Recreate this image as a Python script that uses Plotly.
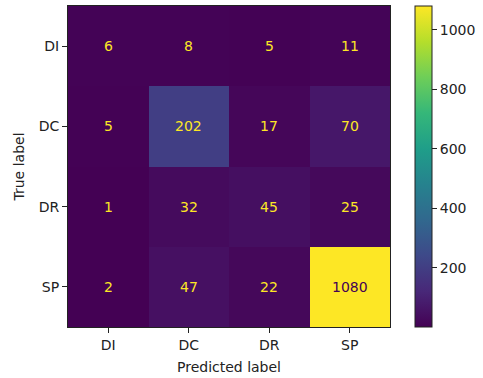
import plotly.graph_objects as go

labels = ["DI", "DC", "DR", "SP"]
matrix = [
    [6, 8, 5, 11],
    [5, 202, 17, 70],
    [1, 32, 45, 25],
    [2, 47, 22, 1080],
]
cbar_ticks = [200, 400, 600, 800, 1000]

zmin = min(min(r) for r in matrix)
zmax = max(max(r) for r in matrix)
thresh = (zmin + zmax) / 2
FONT = "DejaVu Sans"
FS = 14

fig = go.Figure(go.Heatmap(
    z=matrix, x=labels, y=labels,
    colorscale="Viridis", zmin=zmin, zmax=zmax,
    xgap=0, ygap=0, hoverinfo="skip",
    colorbar=dict(
        x=1.078, xanchor="left", y=0.5, yanchor="middle",
        len=1.0, lenmode="fraction", thickness=17, xpad=0, ypad=0,
        outlinewidth=1, outlinecolor="#222",
        tickvals=cbar_ticks, ticks="outside", ticklen=5, tickcolor="#222",
        tickfont=dict(family=FONT, size=FS, color="#222"),
    ),
))

ann = []
for i, row in enumerate(matrix):
    for j, v in enumerate(row):
        ann.append(dict(
            x=labels[j], y=labels[i], text=str(v), showarrow=False,
            font=dict(family=FONT, size=FS,
                      color="#440154" if v >= thresh else "#fde725"),
        ))

axis_common = dict(
    showline=True, linecolor="#222", linewidth=1, mirror=True,
    ticks="outside", ticklen=5, tickcolor="#222", showgrid=False, zeroline=False,
    tickfont=dict(family=FONT, size=FS, color="#222"),
)
fig.update_layout(
    width=483, height=378,
    margin=dict(l=68, r=93, t=5, b=50),
    paper_bgcolor="white", plot_bgcolor="white",
    annotations=ann,
    xaxis=dict(title=dict(text="Predicted label", standoff=10,
                          font=dict(family=FONT, size=FS, color="#222")),
               **axis_common),
    yaxis=dict(title=dict(text="True label", standoff=10,
                          font=dict(family=FONT, size=FS, color="#222")),
               autorange="reversed", **axis_common),
)
fig.write_html("out.html", config={"displayModeBar": False},
               post_script="document.body.style.margin='0';document.body.style.overflow='hidden';")
